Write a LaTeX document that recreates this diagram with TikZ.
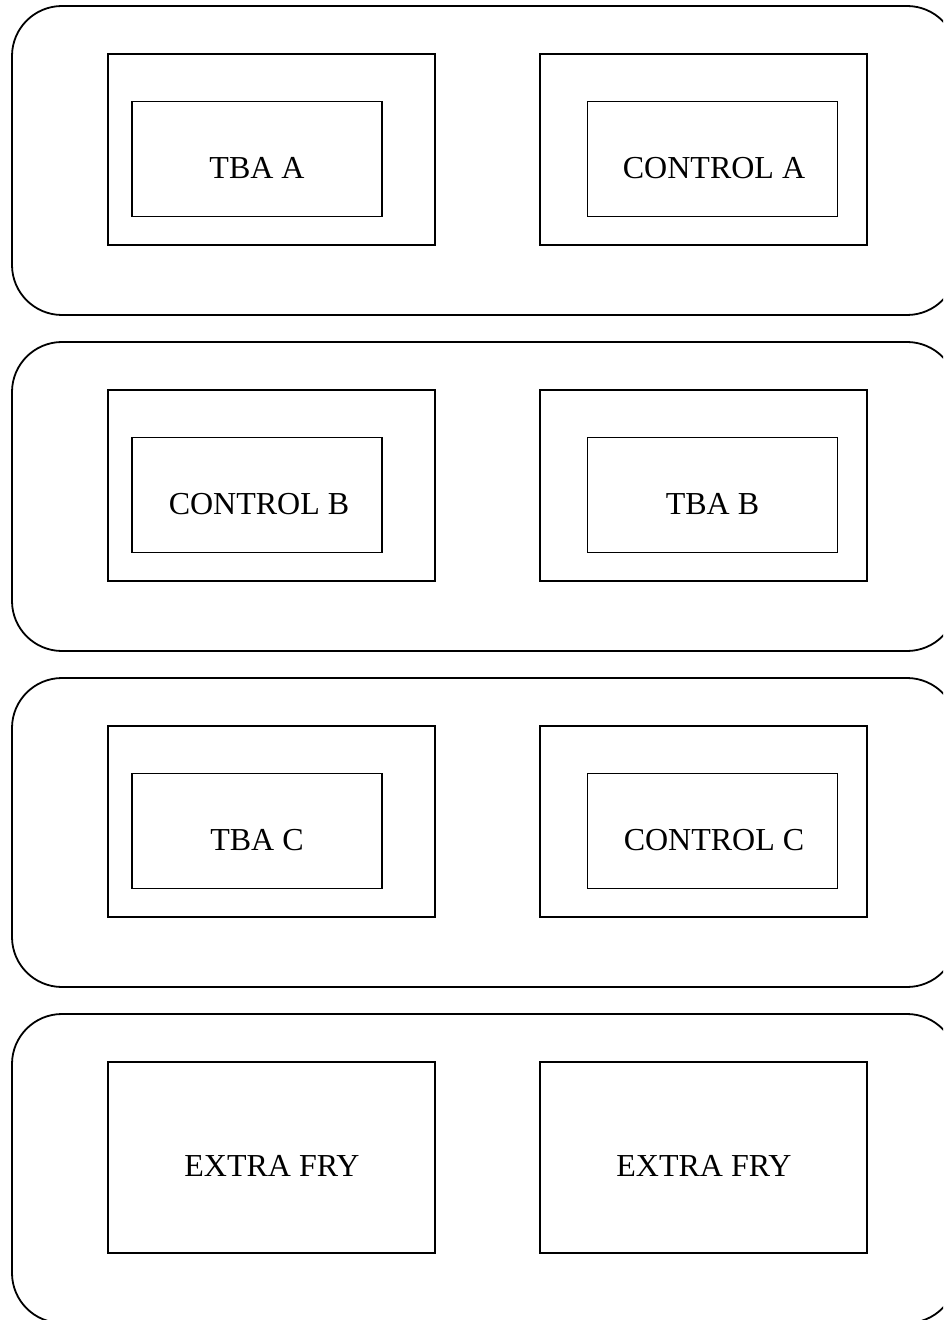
\documentclass[tikz,border=0pt]{standalone}
\usepackage{fontspec}
\setmainfont{Liberation Serif}
\begin{document}
\begin{tikzpicture}[x=0.5pt,y=-0.5pt,
  panel/.style={draw=black,line width=0.9pt,rounded corners=25pt},
  outerbox/.style={draw=black,line width=0.9pt,minimum width=163.5pt,minimum height=95.5pt,inner sep=0pt},
  innerbox/.style={draw=black,line width=0.9pt,minimum width=125pt,minimum height=57.5pt,inner sep=0pt},
  lbl/.style={font=\fontsize{16}{19}\selectfont,inner sep=0pt}]
\useasboundingbox (0,0) rectangle (943,1320);
\clip (0,0) rectangle (943,1320);
\fill[white] (0,0) rectangle (943,1320);
% panels
\foreach \i/\t in {1/6,2/342,3/678,4/1014}{
  \draw[panel] (12,\t) rectangle (957,\t+309);
}
% row 1
\node[outerbox] (o1l) at (271.5,149.5) {};
\node[innerbox] (i1l) at (257,159) {};
\node[lbl] (t1l) at (257,168) {TBA A};
\node[outerbox] (o1r) at (703.5,149.5) {};
\node[innerbox] (i1r) at (712.5,159) {};
\node[lbl] (t1r) at (714,168) {CONTROL A};
% row 2
\node[outerbox] (o2l) at (271.5,485.5) {};
\node[innerbox] (i2l) at (257,495) {};
\node[lbl] (t2l) at (259,504) {CONTROL B};
\node[outerbox] (o2r) at (703.5,485.5) {};
\node[innerbox] (i2r) at (712.5,495) {};
\node[lbl] (t2r) at (712.5,504) {TBA B};
% row 3
\node[outerbox] (o3l) at (271.5,821.5) {};
\node[innerbox] (i3l) at (257,831) {};
\node[lbl] (t3l) at (257,840) {TBA C};
\node[outerbox] (o3r) at (703.5,821.5) {};
\node[innerbox] (i3r) at (712.5,831) {};
\node[lbl] (t3r) at (714,840) {CONTROL C};
% row 4
\node[outerbox] (o4l) at (271.5,1157.5) {};
\node[lbl] (t4l) at (272,1166) {EXTRA FRY};
\node[outerbox] (o4r) at (703.5,1157.5) {};
\node[lbl] (t4r) at (704,1166) {EXTRA FRY};
\end{tikzpicture}
\end{document}
